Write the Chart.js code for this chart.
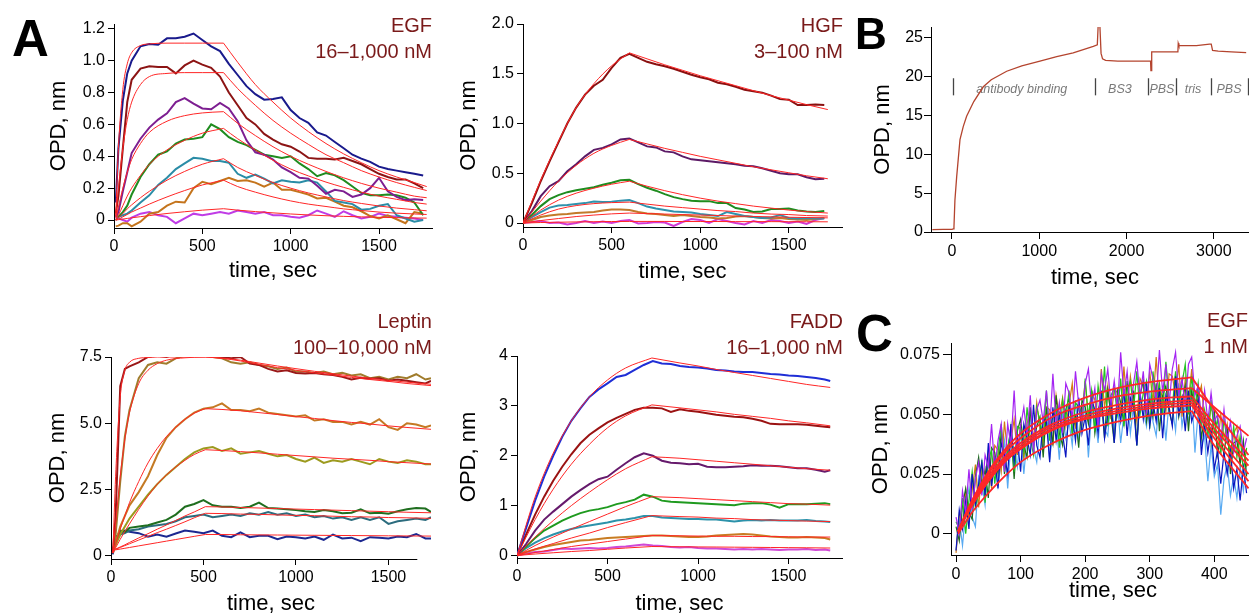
<!DOCTYPE html>
<html>
<head>
<meta charset="utf-8">
<script src="https://cdn.jsdelivr.net/npm/chart.js@4.4.1/dist/chart.umd.min.js"></script>
<style>
  body { margin: 0; width: 1249px; height: 614px; overflow: hidden; background: #fff; position: relative;
         font-family: "Liberation Sans", Arial, sans-serif; }
  canvas { position: absolute; }
  .letter { position: absolute; font-weight: bold; color: #000; }
  .ttl { position: absolute; color: #7a1a1a; font-size: 20px; line-height: 25.5px; text-align: right; white-space: nowrap; }
</style>
</head>
<body>
<canvas id="egf" width="400" height="290" style="left:40px;top:0px"></canvas>
<canvas id="hgf" width="400" height="290" style="left:450px;top:0px"></canvas>
<canvas id="bind" width="399" height="300" style="left:860px;top:0px"></canvas>
<canvas id="leptin" width="400" height="330" style="left:40px;top:300px"></canvas>
<canvas id="fadd" width="400" height="330" style="left:450px;top:300px"></canvas>
<canvas id="egf1" width="415" height="330" style="left:860px;top:300px"></canvas>

<div class="letter" style="left:12px;top:13px;font-size:51px;line-height:51px">A</div>
<div class="letter" style="left:855px;top:12px;font-size:44px;line-height:44px">B</div>
<div class="letter" style="left:856px;top:308px;font-size:51px;line-height:51px">C</div>

<div class="ttl" style="right:817px;top:13px">EGF<br>16–1,000 nM</div>
<div class="ttl" style="right:406px;top:13px">HGF<br>3–100 nM</div>
<div class="ttl" style="right:817px;top:309px">Leptin<br>100–10,000 nM</div>
<div class="ttl" style="right:406px;top:309px">FADD<br>16–1,000 nM</div>
<div class="ttl" style="right:1px;top:308px">EGF<br>1 nM</div>

<script>
// ---- EGF 16-1000 nM (top left) ----
const egfTime = [10,25,50,75,100,150,200,250,300,350,400,450,500,550,600,650,700,750,800,850,900,950,1000,1050,1100,1150,1200,1250,1300,1350,1400,1450,1500,1550,1600,1650,1700,1750];
const egfNavy = [0.11,0.45,0.75,0.92,1.0,1.09,1.105,1.10,1.14,1.14,1.15,1.17,1.13,1.09,1.06,0.98,0.91,0.84,0.79,0.755,0.76,0.77,0.69,0.64,0.61,0.55,0.53,0.49,0.45,0.41,0.385,0.365,0.335,0.32,0.31,0.30,0.29,0.28];
const egfDarkRed = [0.04,0.15,0.45,0.74,0.88,0.95,0.965,0.96,0.96,0.92,0.97,1.0,0.975,0.955,0.9,0.8,0.72,0.64,0.6,0.54,0.505,0.475,0.46,0.43,0.39,0.385,0.385,0.38,0.39,0.37,0.35,0.32,0.29,0.27,0.255,0.255,0.23,0.2];
const egfPurple = [0.02,0.05,0.18,0.3,0.42,0.51,0.58,0.63,0.67,0.74,0.765,0.73,0.7,0.695,0.735,0.7,0.62,0.5,0.425,0.41,0.38,0.33,0.3,0.265,0.26,0.215,0.165,0.19,0.18,0.145,0.16,0.2,0.265,0.18,0.145,0.125,0.13,0.125];
const egfGreen = [0.03,0.02,0.05,0.09,0.16,0.27,0.35,0.41,0.43,0.48,0.505,0.51,0.52,0.6,0.57,0.52,0.49,0.47,0.44,0.41,0.40,0.39,0.4,0.355,0.32,0.275,0.295,0.28,0.25,0.21,0.17,0.155,0.155,0.16,0.155,0.14,0.11,0.03];
const egfTeal = [0.0,0.02,0.03,0.04,0.06,0.11,0.155,0.22,0.265,0.32,0.355,0.39,0.385,0.37,0.37,0.36,0.29,0.265,0.285,0.26,0.23,0.25,0.24,0.235,0.25,0.235,0.18,0.12,0.11,0.10,0.065,0.07,0.09,0.1,0.03,0.01,-0.01,0.0];
const egfOrange = [-0.04,-0.035,-0.02,-0.02,-0.04,-0.01,0.04,0.05,0.09,0.115,0.11,0.2,0.24,0.225,0.245,0.265,0.245,0.25,0.235,0.21,0.235,0.19,0.19,0.175,0.16,0.135,0.14,0.115,0.09,0.08,0.055,0.025,0.01,0.03,0.005,-0.02,0.05,0.04];
const egfMagenta = [0.02,0.01,0.0,-0.01,0.015,0.04,0.05,0.03,0.02,-0.02,0.01,0.04,0.03,0.04,0.05,0.04,0.06,0.05,0.04,0.05,0.03,0.03,0.02,0.015,0.03,0.06,0.04,0.02,0.055,0.03,0.01,0.02,0.04,0.025,0.02,0.015,0.01,0.0];
const egfFitOnTime = [10,25,50,75,100,150,200,300,400,500,620];
const egfFitOffTime = [620,700,800,900,1000,1100,1200,1300,1400,1500,1600,1700,1770];
const egfFitOn = [
  [0.03,0.45,0.82,0.98,1.05,1.095,1.105,1.11,1.11,1.11,1.11],
  [0.02,0.2,0.45,0.63,0.74,0.85,0.9,0.92,0.925,0.925,0.925],
  [0.01,0.08,0.2,0.3,0.38,0.48,0.55,0.62,0.655,0.672,0.68],
  [0.0,0.03,0.09,0.15,0.2,0.28,0.35,0.44,0.5,0.545,0.575],
  [0.0,0.015,0.04,0.07,0.095,0.14,0.18,0.25,0.305,0.35,0.385],
  [0.0,0.005,0.02,0.035,0.05,0.075,0.1,0.145,0.185,0.22,0.25],
  [0.0,0.002,0.006,0.01,0.014,0.021,0.028,0.041,0.052,0.062,0.071]
];
const egfFitOff = [
  [1.11,0.99,0.85,0.74,0.64,0.555,0.48,0.415,0.36,0.31,0.27,0.235,0.21],
  [0.925,0.825,0.72,0.625,0.545,0.475,0.41,0.36,0.31,0.27,0.235,0.205,0.185],
  [0.68,0.607,0.53,0.46,0.40,0.35,0.305,0.265,0.23,0.2,0.175,0.15,0.14],
  [0.575,0.51,0.44,0.375,0.32,0.277,0.238,0.205,0.175,0.15,0.13,0.11,0.10],
  [0.385,0.33,0.28,0.235,0.2,0.17,0.145,0.122,0.104,0.088,0.075,0.065,0.058],
  [0.25,0.21,0.175,0.145,0.12,0.1,0.085,0.07,0.06,0.05,0.043,0.038,0.035],
  [0.071,0.062,0.053,0.045,0.038,0.032,0.027,0.023,0.02,0.017,0.015,0.013,0.012]
];
const egfXTicks = [0,500,1000,1500];
const egfYTicks = [0,0.2,0.4,0.6,0.8,1.0,1.2];

// ---- HGF 3-100 nM ----
const hgfTime = [0,50,100,150,200,250,300,350,400,450,500,550,600,650,700,750,800,850,900,950,1000,1050,1100,1150,1200,1250,1300,1350,1400,1450,1500,1550,1600,1650,1700];
const hgfDarkRed = [0,0.2,0.42,0.62,0.81,1.0,1.16,1.29,1.38,1.44,1.56,1.66,1.70,1.66,1.62,1.595,1.575,1.55,1.52,1.49,1.465,1.445,1.41,1.395,1.37,1.34,1.325,1.31,1.28,1.245,1.24,1.185,1.185,1.19,1.185];
const hgfPurple = [0,0.12,0.27,0.37,0.42,0.52,0.59,0.67,0.735,0.755,0.79,0.84,0.85,0.81,0.77,0.76,0.72,0.71,0.67,0.64,0.63,0.62,0.61,0.6,0.59,0.575,0.57,0.55,0.525,0.5,0.49,0.49,0.46,0.44,0.445];
const hgfGreen = [0,0.08,0.17,0.24,0.28,0.31,0.33,0.345,0.36,0.385,0.405,0.43,0.435,0.39,0.355,0.325,0.29,0.26,0.24,0.225,0.22,0.22,0.2,0.2,0.15,0.135,0.11,0.115,0.14,0.14,0.145,0.125,0.115,0.11,0.12];
const hgfTeal = [0,0.06,0.11,0.155,0.175,0.18,0.19,0.2,0.215,0.21,0.215,0.225,0.23,0.2,0.165,0.145,0.13,0.115,0.11,0.105,0.09,0.08,0.07,0.11,0.09,0.07,0.06,0.05,0.055,0.08,0.05,0.045,0.05,0.045,0.045];
const hgfOrange = [0,0.03,0.06,0.075,0.085,0.09,0.1,0.105,0.11,0.125,0.135,0.135,0.13,0.11,0.095,0.09,0.08,0.07,0.08,0.07,0.06,0.055,0.045,0.05,0.065,0.07,0.06,0.05,0.045,0.05,0.04,0.035,0.03,0.04,0.05];
const hgfMagenta = [0,0.01,0.02,0.0,0.005,-0.015,0.0,0.02,0.0,0.015,0.0,0.02,0.03,-0.005,0.0,0.01,0.005,-0.03,0.01,0.04,0.03,0.0,0.04,0.02,0.0,-0.015,0.02,0.0,0.03,0.02,0.0,0.015,-0.01,0.03,0.05];
const hgfFitOnTime = [0,100,200,300,400,500,600];
const hgfFitOffTime = [600,700,800,900,1000,1100,1200,1300,1400,1500,1600,1720];
const hgfFitOn = [
  [0,0.43,0.82,1.16,1.4,1.58,1.71],
  [0,0.22,0.42,0.58,0.7,0.78,0.84],
  [0,0.13,0.23,0.3,0.35,0.39,0.42],
  [0,0.08,0.14,0.175,0.195,0.205,0.21],
  [0,0.025,0.045,0.065,0.08,0.092,0.1],
  [0,0.005,0.008,0.011,0.013,0.015,0.016]
];
const hgfFitOff = [
  [1.71,1.65,1.59,1.535,1.48,1.43,1.38,1.33,1.28,1.235,1.19,1.14],
  [0.84,0.795,0.75,0.71,0.67,0.635,0.6,0.565,0.535,0.505,0.475,0.445],
  [0.42,0.37,0.325,0.285,0.25,0.22,0.195,0.17,0.15,0.13,0.115,0.1],
  [0.21,0.19,0.17,0.155,0.14,0.125,0.115,0.1,0.09,0.085,0.075,0.07],
  [0.1,0.095,0.09,0.085,0.08,0.075,0.07,0.066,0.062,0.058,0.055,0.052],
  [0.016,0.016,0.016,0.015,0.015,0.015,0.014,0.014,0.014,0.013,0.013,0.012]
];
const hgfXTicks = [0,500,1000,1500];
const hgfYTicks = [0,0.5,1.0,1.5,2.0];

// ---- B: antibody binding trace ----
const bindTime = [-225,-100,0,15,23,34,54,92,130,168,250,359,450,627,800,1008,1200,1389,1619,1665,1676,1695,1708,1725,1760,1900,2100,2275,2279,2284,2288,2400,2588,2592,2600,2620,2800,2950,2970,2985,3050,3200,3370];
const bindOpd = [0.3,0.35,0.35,0.4,0.65,4.1,7.1,11.9,13.6,14.9,16.8,18.7,19.6,20.7,21.4,22.0,22.6,23.06,23.9,24.1,26.9,26.4,23.0,22.3,22.1,22.0,22.0,22.0,20.8,20.8,23.2,23.2,23.2,24.3,24.0,24.0,24.0,24.2,24.2,23.4,23.3,23.2,23.1];
const stepMarks = [15,1638,2242,2566,2963,3387];
const stepNames = ['antibody binding','BS3','PBS','tris','PBS'];
const stepNameAt = [800,1924,2405,2761,3173];
const stepBand = [17.6,19.8];
const stepTextY = 17.9;
const bindXTicks = [0,1000,2000,3000];
const bindYTicks = [0,5,10,15,20,25];

// ---- Leptin 100-10000 nM ----
const lepTime = [10,25,50,75,100,150,200,250,300,350,400,450,500,550,600,650,700,750,800,850,900,950,1000,1050,1100,1150,1200,1250,1300,1350,1400,1450,1500,1550,1600,1650,1700,1730];
const lepDarkRed = [0.1,1.5,6.4,7.05,7.15,7.3,7.5,7.55,7.5,7.62,7.65,7.7,7.62,7.55,7.5,7.45,7.5,7.25,7.2,7.05,6.95,7.0,6.9,6.88,6.9,6.85,6.82,6.75,6.65,6.72,6.68,6.7,6.6,6.65,6.6,6.55,6.5,6.6];
const lepOliveBrown = [0.1,0.8,2.8,4.5,5.5,6.7,7.2,7.3,7.25,7.45,7.55,7.65,7.6,7.5,7.45,7.3,7.25,7.3,7.2,7.15,7.05,7.1,6.95,6.95,6.9,6.95,6.85,6.9,6.8,6.85,6.7,6.75,6.65,6.75,6.7,6.85,6.65,6.7];
const lepOrange = [0.1,0.5,1.1,1.5,1.9,2.4,3.0,3.8,4.45,4.85,5.15,5.4,5.55,5.6,5.75,5.5,5.5,5.45,5.55,5.4,5.35,5.3,5.25,5.3,5.1,5.15,5.05,5.05,4.95,5.05,4.95,5.15,4.85,4.75,5.0,4.95,4.85,4.92];
const lepOlive = [0.1,0.4,0.8,1.1,1.4,1.85,2.3,2.7,3.05,3.35,3.65,3.9,4.05,4.1,3.95,4.05,3.85,3.9,3.95,3.85,3.75,3.8,3.65,3.55,3.7,3.5,3.6,3.55,3.65,3.55,3.45,3.65,3.55,3.5,3.6,3.55,3.45,3.45];
const lepGreen = [0.2,0.6,0.95,0.9,1.05,1.1,1.15,1.25,1.35,1.55,1.85,1.95,2.1,1.9,1.85,1.85,1.8,1.85,2.0,1.8,1.78,1.75,1.72,1.68,1.65,1.72,1.68,1.6,1.62,1.75,1.6,1.62,1.58,1.68,1.75,1.8,1.78,1.65];
const lepTeal = [0.2,0.55,0.8,0.85,0.95,1.0,1.1,1.15,1.2,1.3,1.45,1.5,1.55,1.45,1.5,1.55,1.5,1.6,1.55,1.65,1.55,1.6,1.5,1.55,1.45,1.5,1.4,1.45,1.35,1.45,1.35,1.45,1.2,1.3,1.35,1.4,1.35,1.45];
const lepNavy = [0.05,0.7,0.85,0.95,0.9,0.85,0.72,0.8,0.72,0.84,0.95,0.9,0.85,0.95,0.75,0.7,0.88,0.7,0.75,0.75,0.62,0.72,0.7,0.65,0.72,0.6,0.8,0.65,0.68,0.55,0.7,0.68,0.65,0.72,0.7,0.82,0.65,0.65];
const lepFitOnTime = [10,25,50,75,100,150,200,250,300,350,400,450,510];
const lepFitOffTime = [510,600,700,800,900,1000,1100,1200,1300,1400,1500,1600,1730];
const lepFitOn = [
  [0.1,3.0,6.0,7.0,7.3,7.45,7.48,7.5,7.5,7.5,7.5,7.5,7.5],
  [0.1,1.2,3.0,4.4,5.4,6.5,7.0,7.25,7.38,7.44,7.47,7.49,7.5],
  [0.1,0.45,1.0,1.5,2.0,2.8,3.5,4.05,4.5,4.85,5.15,5.38,5.55],
  [0.1,0.3,0.62,0.92,1.2,1.75,2.25,2.7,3.05,3.35,3.6,3.82,4.0],
  [0.2,0.25,0.33,0.41,0.5,0.67,0.83,1.0,1.16,1.33,1.5,1.65,1.85],
  [0.2,0.24,0.31,0.38,0.45,0.59,0.73,0.87,1.0,1.14,1.28,1.43,1.6],
  [0.2,0.22,0.25,0.28,0.31,0.37,0.43,0.49,0.55,0.61,0.67,0.73,0.8]
];
const lepFitOff = [
  [7.5,7.45,7.35,7.22,7.1,7.0,6.9,6.82,6.73,6.65,6.58,6.5,6.42],
  [7.5,7.46,7.38,7.27,7.16,7.06,6.96,6.87,6.78,6.7,6.62,6.55,6.47],
  [5.55,5.52,5.47,5.4,5.33,5.25,5.18,5.1,5.03,4.97,4.9,4.84,4.77],
  [4.0,3.97,3.93,3.88,3.83,3.78,3.73,3.68,3.64,3.6,3.55,3.51,3.46],
  [1.85,1.84,1.82,1.8,1.78,1.76,1.74,1.72,1.7,1.68,1.66,1.64,1.62],
  [1.6,1.59,1.57,1.56,1.54,1.52,1.51,1.49,1.47,1.46,1.44,1.43,1.41],
  [0.8,0.8,0.79,0.785,0.78,0.775,0.77,0.765,0.76,0.755,0.75,0.745,0.74]
];
const lepAxisEnd = 1656;
const lepXTicks = [0,500,1000,1500];
const lepYTicks = [0,2.5,5.0,7.5];

// ---- FADD 16-1000 nM ----
const faddTime = [0,50,100,150,200,250,300,350,400,450,500,550,600,650,700,750,800,850,900,950,1000,1050,1100,1150,1200,1250,1300,1350,1400,1450,1500,1550,1600,1650,1700,1730];
const faddBlue = [0.0,0.55,1.1,1.58,2.0,2.38,2.7,2.95,3.18,3.33,3.45,3.58,3.62,3.72,3.82,3.9,3.85,3.84,3.8,3.78,3.77,3.75,3.72,3.71,3.69,3.68,3.68,3.66,3.64,3.63,3.61,3.6,3.58,3.56,3.53,3.5];
const faddDarkRed = [0,0.42,0.82,1.18,1.5,1.78,2.03,2.25,2.42,2.55,2.67,2.76,2.84,2.92,2.96,2.96,2.95,2.88,2.93,2.9,2.88,2.85,2.82,2.8,2.78,2.77,2.74,2.7,2.64,2.63,2.63,2.63,2.62,2.6,2.58,2.57];
const faddPurple = [0,0.23,0.5,0.72,0.88,1.03,1.18,1.31,1.43,1.53,1.58,1.72,1.85,1.97,2.05,2.0,1.9,1.86,1.85,1.83,1.84,1.78,1.77,1.77,1.78,1.79,1.81,1.8,1.8,1.79,1.77,1.75,1.75,1.72,1.68,1.71];
const faddGreen = [0,0.18,0.35,0.5,0.6,0.7,0.78,0.85,0.9,0.93,0.97,1.03,1.07,1.12,1.22,1.18,1.1,1.08,1.07,1.06,1.05,1.04,1.03,1.02,1.01,1.04,1.05,1.05,1.02,0.96,1.03,1.03,1.03,1.04,1.05,1.03];
const faddTeal = [0,0.15,0.26,0.35,0.42,0.48,0.53,0.57,0.6,0.63,0.66,0.7,0.72,0.75,0.79,0.79,0.76,0.75,0.74,0.73,0.73,0.72,0.72,0.7,0.68,0.7,0.71,0.7,0.71,0.7,0.7,0.7,0.71,0.69,0.68,0.67];
const faddOrange = [0,0.07,0.12,0.17,0.21,0.24,0.27,0.3,0.31,0.33,0.35,0.36,0.37,0.38,0.39,0.4,0.4,0.39,0.38,0.37,0.37,0.38,0.4,0.41,0.42,0.43,0.42,0.4,0.38,0.37,0.36,0.36,0.37,0.36,0.35,0.32];
const faddMagenta = [0,0.04,0.07,0.08,0.11,0.14,0.13,0.14,0.15,0.14,0.15,0.17,0.18,0.2,0.22,0.2,0.19,0.17,0.16,0.17,0.15,0.14,0.14,0.13,0.12,0.13,0.12,0.13,0.12,0.11,0.12,0.12,0.13,0.11,0.12,0.1];
const faddFitOnTime = [0,100,200,300,400,500,600,745];
const faddFitOffTime = [745,900,1000,1100,1200,1300,1400,1500,1600,1730];
const faddFitOn = [
  [0,1.17,2.05,2.7,3.18,3.52,3.76,3.96],
  [0,0.72,1.33,1.83,2.23,2.56,2.8,3.02],
  [0,0.37,0.7,1.0,1.27,1.52,1.74,1.98],
  [0,0.2,0.37,0.53,0.68,0.83,0.98,1.18],
  [0,0.13,0.24,0.35,0.45,0.56,0.66,0.8],
  [0,0.06,0.12,0.18,0.23,0.28,0.33,0.4],
  [0,0.03,0.055,0.08,0.1,0.125,0.15,0.18]
];
const faddFitOff = [
  [3.96,3.86,3.8,3.73,3.67,3.61,3.55,3.49,3.43,3.37],
  [3.02,2.96,2.92,2.88,2.83,2.79,2.75,2.7,2.66,2.6],
  [1.98,1.95,1.92,1.89,1.86,1.83,1.8,1.77,1.74,1.71],
  [1.18,1.16,1.14,1.12,1.1,1.08,1.06,1.04,1.03,1.01],
  [0.8,0.78,0.77,0.75,0.74,0.72,0.71,0.7,0.69,0.68],
  [0.4,0.395,0.39,0.385,0.385,0.38,0.38,0.375,0.37,0.37],
  [0.18,0.175,0.172,0.17,0.167,0.164,0.161,0.158,0.155,0.15]
];
const faddXTicks = [0,500,1000,1500];
const faddYTicks = [0,1,2,3,4];

// ---- C: EGF 1 nM, repeated runs ----
const cTime = [0,5,10,15,20,25,30,35,40,45,50,55,60,65,70,75,80,85,90,95,100,105,110,115,120,125,130,135,140,145,150,155,160,165,170,175,180,185,190,195,200,205,210,215,220,225,230,235,240,245,250,255,260,265,270,275,280,285,290,295,300,305,310,315,320,325,330,335,340,345,350,355,360,365,370,375,380,385,390,395,400,405,410,415,420,425,430,435,440,445,450];
const cPurple = [0.007,0.000,0.018,0.009,0.027,0.010,0.023,0.030,0.016,0.033,
  0.028,0.046,0.027,0.039,0.046,0.026,0.046,0.037,0.060,0.034,
  0.045,0.053,0.041,0.058,0.034,0.052,0.056,0.047,0.060,0.043,
  0.067,0.046,0.055,0.042,0.063,0.059,0.048,0.068,0.054,0.047,
  0.063,0.069,0.053,0.061,0.044,0.067,0.060,0.069,0.054,0.064,
  0.052,0.076,0.058,0.068,0.051,0.063,0.072,0.057,0.068,0.050,
  0.071,0.065,0.056,0.077,0.059,0.071,0.054,0.069,0.076,0.058,
  0.065,0.053,0.071,0.074,0.058,0.062,0.048,0.060,0.047,0.059,
  0.047,0.050,0.039,0.052,0.039,0.047,0.034,0.041,0.045,0.034,
  0.040];
const cBlue = [-0.007,0.010,0.002,0.014,0.002,0.025,0.012,0.021,0.030,0.016,
  0.038,0.020,0.031,0.019,0.038,0.033,0.025,0.046,0.030,0.040,
  0.026,0.046,0.040,0.033,0.054,0.037,0.032,0.048,0.047,0.030,
  0.053,0.039,0.050,0.042,0.032,0.053,0.049,0.039,0.057,0.042,
  0.049,0.037,0.056,0.052,0.042,0.060,0.040,0.050,0.056,0.038,
  0.055,0.047,0.060,0.041,0.057,0.053,0.037,0.059,0.048,0.063,
  0.045,0.055,0.047,0.061,0.040,0.058,0.053,0.045,0.066,0.050,
  0.057,0.043,0.060,0.047,0.052,0.056,0.033,0.046,0.034,0.044,
  0.027,0.035,0.021,0.034,0.025,0.035,0.019,0.027,0.014,0.028,
  0.017];
const cGreen = [0.005,0.002,0.015,0.000,0.014,0.026,0.011,0.017,0.031,0.013,
  0.031,0.035,0.021,0.034,0.046,0.029,0.035,0.045,0.026,0.045,
  0.044,0.034,0.053,0.040,0.033,0.053,0.047,0.040,0.060,0.039,
  0.051,0.053,0.036,0.056,0.048,0.060,0.042,0.055,0.053,0.045,
  0.065,0.049,0.060,0.043,0.062,0.052,0.070,0.045,0.058,0.061,
  0.050,0.065,0.045,0.060,0.064,0.052,0.068,0.050,0.059,0.064,
  0.044,0.068,0.056,0.063,0.050,0.072,0.057,0.053,0.068,0.055,
  0.063,0.071,0.050,0.066,0.053,0.063,0.045,0.052,0.040,0.056,
  0.042,0.048,0.033,0.048,0.039,0.033,0.045,0.032,0.041,0.026,
  0.036];
const cDarkGreen = [0.003,-0.003,0.012,0.019,0.009,0.006,0.024,0.032,0.020,0.027,
  0.015,0.036,0.034,0.025,0.043,0.025,0.036,0.043,0.023,0.043,
  0.048,0.037,0.032,0.053,0.037,0.045,0.049,0.032,0.052,0.046,
  0.038,0.058,0.042,0.037,0.052,0.057,0.042,0.049,0.036,0.056,
  0.053,0.046,0.060,0.042,0.052,0.056,0.040,0.060,0.050,0.038,
  0.060,0.055,0.046,0.064,0.049,0.060,0.037,0.058,0.064,0.047,
  0.056,0.049,0.063,0.043,0.058,0.062,0.051,0.046,0.067,0.049,
  0.056,0.062,0.043,0.060,0.051,0.060,0.040,0.049,0.050,0.038,
  0.052,0.033,0.041,0.033,0.045,0.025,0.038,0.039,0.029,0.039,
  0.024];
const cLightBlue = [-0.007,0.006,-0.005,0.010,0.019,0.007,0.003,0.024,0.021,0.012,
  0.035,0.020,0.031,0.020,0.030,0.039,0.019,0.038,0.036,0.028,
  0.043,0.025,0.040,0.048,0.036,0.030,0.046,0.034,0.053,0.031,
  0.043,0.047,0.031,0.051,0.040,0.047,0.037,0.056,0.039,0.046,
  0.053,0.032,0.051,0.049,0.038,0.056,0.044,0.041,0.058,0.043,
  0.055,0.038,0.050,0.057,0.042,0.054,0.037,0.057,0.051,0.045,
  0.060,0.047,0.041,0.057,0.054,0.039,0.056,0.053,0.043,0.063,
  0.045,0.054,0.047,0.060,0.034,0.051,0.037,0.041,0.022,0.037,
  0.024,0.029,0.008,0.023,0.029,0.016,0.024,0.015,0.028,0.018,
  0.030];
const cOrange = [-0.008,0.008,0.004,0.018,0.006,0.018,0.029,0.011,0.027,0.022,
  0.034,0.019,0.037,0.035,0.026,0.047,0.033,0.039,0.048,0.033,
  0.046,0.031,0.046,0.052,0.039,0.055,0.044,0.038,0.053,0.052,
  0.037,0.058,0.049,0.057,0.045,0.054,0.063,0.044,0.055,0.049,
  0.064,0.047,0.060,0.056,0.045,0.069,0.053,0.062,0.048,0.061,
  0.059,0.050,0.070,0.053,0.066,0.056,0.047,0.065,0.062,0.051,
  0.068,0.055,0.074,0.054,0.061,0.051,0.067,0.066,0.058,0.071,
  0.049,0.065,0.056,0.069,0.051,0.057,0.062,0.047,0.043,0.053,
  0.049,0.036,0.050,0.040,0.046,0.031,0.042,0.045,0.031,0.037,
  0.028];
const cFitOnTime = [3,25,50,75,100,150,200,250,300,365];
const cFitOffTime = [365,400,453];
const cFitOn = [
  [0.001,0.014,0.026,0.035,0.042,0.051,0.057,0.061,0.0635,0.0655],
  [0.001,0.014,0.025,0.034,0.040,0.049,0.054,0.0575,0.0595,0.061],
  [0.001,0.013,0.024,0.032,0.038,0.046,0.051,0.054,0.0562,0.0576],
  [0.001,0.013,0.023,0.031,0.037,0.045,0.0495,0.0525,0.0545,0.056],
  [0.001,0.012,0.022,0.030,0.036,0.044,0.0485,0.0515,0.0535,0.0549],
  [0.001,0.012,0.022,0.030,0.0355,0.0435,0.048,0.0505,0.0525,0.0538],
  [0.0,0.009,0.017,0.024,0.030,0.038,0.0435,0.047,0.0495,0.0514]
];
const cFitOff = [
  [0.0655,0.052,0.033],
  [0.061,0.053,0.041],
  [0.0576,0.046,0.0306],
  [0.056,0.044,0.0285],
  [0.0549,0.042,0.025],
  [0.0538,0.040,0.022],
  [0.0514,0.037,0.019]
];
const cXTicks = [0,100,200,300,400];
const cYTicks = [0,0.025,0.05,0.075];

const FONT = '"Liberation Sans", Arial, sans-serif';
const FIT_RED = '#ff2626';

function pts(xs, ys) {
  return xs.map(function (x, i) { return { x: x, y: ys[i] }; });
}

function lineSet(t, ys, color, width) {
  return { data: pts(t, ys), borderColor: color, borderWidth: width, pointRadius: 0, tension: 0, fill: false };
}

// association and dissociation parts of each fit are separate curves (sharp corner at the switch)
function fitSets(onT, offT, on, off, width) {
  var out = [];
  for (var i = 0; i < on.length; i++) {
    out.push({ data: pts(onT, on[i]), borderColor: FIT_RED, borderWidth: width, pointRadius: 0, cubicInterpolationMode: 'monotone', fill: false });
    out.push({ data: pts(offT, off[i]), borderColor: FIT_RED, borderWidth: width, pointRadius: 0, cubicInterpolationMode: 'monotone', fill: false });
  }
  return out;
}

const oneDec = function (v) { return v === 0 ? '0' : v.toFixed(1); };
const threeDec = function (v) { return v === 0 ? '0' : v.toFixed(3); };
const plain = function (v) { return String(v); };

function axis(dir, o) {
  return {
    type: 'linear',
    position: dir === 'x' ? 'bottom' : 'left',
    bounds: 'data',
    min: o.min,
    max: o.max,
    afterFit: function (s) { if (dir === 'x') s.height = o.size; else s.width = o.size; },
    // fixed tick positions (chart.js' own step logic snaps big steps to min/max)
    afterBuildTicks: function (s) { s.ticks = o.ticks.map(function (v) { return { value: v }; }); },
    border: { display: o.border !== false, color: '#000', width: 1 },
    grid: { drawOnChartArea: false, drawTicks: true, tickLength: o.tick, color: '#000', lineWidth: 1 },
    ticks: { autoSkip: false, maxRotation: 0, minRotation: 0,
             padding: o.pad, color: '#000', font: { family: FONT, size: 16 }, callback: o.fmt || plain },
    title: { display: true, text: o.title, color: '#000', font: { family: FONT, size: 22 },
             padding: dir === 'x' ? { top: 0, bottom: o.tpad } : { top: o.tpad, bottom: 0 } }
  };
}

function panel(id, o) {
  return new Chart(document.getElementById(id), {
    type: 'line',
    data: { datasets: o.datasets },
    options: {
      responsive: false,
      animation: false,
      devicePixelRatio: 1,
      events: [],
      layout: { autoPadding: false, padding: o.padding },
      plugins: Object.assign({ legend: { display: false }, tooltip: { enabled: false } }, o.pluginOpts || {}),
      scales: { x: axis('x', o.x), y: axis('y', o.y) }
    },
    plugins: o.plugins || []
  });
}

// x axis line that stops before the data end (leptin panel)
const xAxisStub = {
  id: 'xAxisStub',
  afterDraw: function (chart, args, opts) {
    var a = chart.chartArea, ctx = chart.ctx;
    var y = Math.round(a.bottom - 0.5) + 0.5;
    ctx.save();
    ctx.strokeStyle = '#000';
    ctx.lineWidth = 1;
    ctx.beginPath();
    ctx.moveTo(a.left, y);
    ctx.lineTo(chart.scales.x.getPixelForValue(opts.end), y);
    ctx.stroke();
    ctx.restore();
  }
};

// buffer step markers and names in panel B
const bufferSteps = {
  id: 'bufferSteps',
  beforeDatasetsDraw: function (chart) {
    var xs = chart.scales.x, ys = chart.scales.y, ctx = chart.ctx;
    ctx.save();
    ctx.strokeStyle = '#444';
    ctx.lineWidth = 1.3;
    stepMarks.forEach(function (m) {
      var px = Math.round(xs.getPixelForValue(m)) + 0.5;
      ctx.beginPath();
      ctx.moveTo(px, ys.getPixelForValue(stepBand[1]));
      ctx.lineTo(px, ys.getPixelForValue(stepBand[0]));
      ctx.stroke();
    });
    ctx.fillStyle = '#7a7a7a';
    ctx.font = 'italic 12.5px ' + FONT;
    ctx.textAlign = 'center';
    ctx.textBaseline = 'alphabetic';
    stepNames.forEach(function (s, i) {
      ctx.fillText(s, xs.getPixelForValue(stepNameAt[i]), ys.getPixelForValue(stepTextY));
    });
    ctx.restore();
  }
};

panel('egf', {
  padding: { left: 0, top: 24, right: 8, bottom: 0 },
  datasets: fitSets(egfFitOnTime, egfFitOffTime, egfFitOn, egfFitOff, 1).concat([
    lineSet(egfTime, egfNavy, '#191a8c', 2),
    lineSet(egfTime, egfDarkRed, '#8c1414', 2),
    lineSet(egfTime, egfPurple, '#7d1e91', 2),
    lineSet(egfTime, egfGreen, '#1f8c1f', 2),
    lineSet(egfTime, egfTeal, '#2a8ca6', 2),
    lineSet(egfTime, egfOrange, '#c4741c', 2),
    lineSet(egfTime, egfMagenta, '#c03ce6', 2)
  ]),
  x: { min: 0, max: 1800, ticks: egfXTicks, size: 62, tick: 6, pad: 3, title: 'time, sec', tpad: 6 },
  y: { min: -0.05, max: 1.23, ticks: egfYTicks, size: 74, tick: 6, pad: 3, fmt: oneDec, title: 'OPD, nm', tpad: 6 }
});

panel('hgf', {
  padding: { left: 0, top: 24, right: 8, bottom: 0 },
  datasets: fitSets(hgfFitOnTime, hgfFitOffTime, hgfFitOn, hgfFitOff, 1).concat([
    lineSet(hgfTime, hgfDarkRed, '#8a1010', 2),
    lineSet(hgfTime, hgfPurple, '#5c1a66', 2),
    lineSet(hgfTime, hgfGreen, '#1f8c1f', 2),
    lineSet(hgfTime, hgfTeal, '#2f92ad', 2),
    lineSet(hgfTime, hgfOrange, '#c27a2a', 2),
    lineSet(hgfTime, hgfMagenta, '#d23ad6', 2)
  ]),
  x: { min: 0, max: 1800, ticks: hgfXTicks, size: 63, tick: 6, pad: 3, title: 'time, sec', tpad: 5 },
  y: { min: -0.04, max: 2.0, ticks: hgfYTicks, size: 73, tick: 6, pad: 3, fmt: oneDec, title: 'OPD, nm', tpad: 6 }
});

panel('bind', {
  padding: { left: 0, top: 27, right: 0, bottom: 0 },
  datasets: [lineSet(bindTime, bindOpd, '#b4442e', 1.3)],
  x: { min: -240, max: 3517, ticks: bindXTicks, size: 68, tick: 7, pad: 3, title: 'time, sec', tpad: 9 },
  y: { min: 0, max: 26.4, ticks: bindYTicks, size: 71, tick: 7, pad: 1, title: 'OPD, nm', tpad: 10 },
  plugins: [bufferSteps]
});

panel('leptin', {
  padding: { left: 0, top: 57, right: 9, bottom: 0 },
  datasets: fitSets(lepFitOnTime, lepFitOffTime, lepFitOn, lepFitOff, 1).concat([
    lineSet(lepTime, lepDarkRed, '#9a1818', 2),
    lineSet(lepTime, lepOliveBrown, '#a07c2c', 2),
    lineSet(lepTime, lepOrange, '#c47a24', 2),
    lineSet(lepTime, lepOlive, '#9c9a1e', 2),
    lineSet(lepTime, lepGreen, '#1f6e1f', 2),
    lineSet(lepTime, lepTeal, '#2c6c7e', 2),
    lineSet(lepTime, lepNavy, '#1c2890', 2)
  ]),
  x: { min: 0, max: 1730, ticks: lepXTicks, size: 71, tick: 6, pad: 3, title: 'time, sec', tpad: 13, border: false },
  y: { min: -0.125, max: 7.5, ticks: lepYTicks, size: 71, tick: 6, pad: 3, fmt: oneDec, title: 'OPD, nm', tpad: 5 },
  pluginOpts: { xAxisStub: { end: lepAxisEnd } },
  plugins: [xAxisStub]
});

panel('fadd', {
  padding: { left: 0, top: 56, right: 8, bottom: 0 },
  datasets: fitSets(faddFitOnTime, faddFitOffTime, faddFitOn, faddFitOff, 1).concat([
    lineSet(faddTime, faddBlue, '#1f2ed6', 2),
    lineSet(faddTime, faddDarkRed, '#9a1212', 2),
    lineSet(faddTime, faddPurple, '#661a6c', 2),
    lineSet(faddTime, faddGreen, '#1f9a1f', 2),
    lineSet(faddTime, faddTeal, '#2c92aa', 2),
    lineSet(faddTime, faddOrange, '#c87c22', 2),
    lineSet(faddTime, faddMagenta, '#d048d6', 2)
  ]),
  x: { min: 0, max: 1795, ticks: faddXTicks, size: 72, tick: 6, pad: 3, title: 'time, sec', tpad: 13 },
  y: { min: -0.05, max: 4, ticks: faddYTicks, size: 67, tick: 6, pad: 3, title: 'OPD, nm', tpad: 6 }
});

panel('egf1', {
  padding: { left: 0, top: 43, right: 0, bottom: 0 },
  datasets: fitSets(cFitOnTime, cFitOffTime, cFitOn, cFitOff, 1.8).concat([
    lineSet(cTime, cPurple, '#a424f2', 1.2),
    lineSet(cTime, cBlue, '#0a16c0', 1.2),
    lineSet(cTime, cGreen, '#22c422', 1.2),
    lineSet(cTime, cDarkGreen, '#1c6c1c', 1.2),
    lineSet(cTime, cOrange, '#d27a14', 1.2),
    lineSet(cTime, cLightBlue, '#58aaf2', 1.2)
  ]),
  x: { min: -7.8, max: 494, ticks: cXTicks, size: 75, tick: 7, pad: 3, title: 'time, sec', tpad: 26 },
  y: { min: -0.0089, max: 0.0799, ticks: cYTicks, size: 91, tick: 8, pad: 3, fmt: threeDec, title: 'OPD, nm', tpad: 8 }
});
</script>
</body>
</html>
